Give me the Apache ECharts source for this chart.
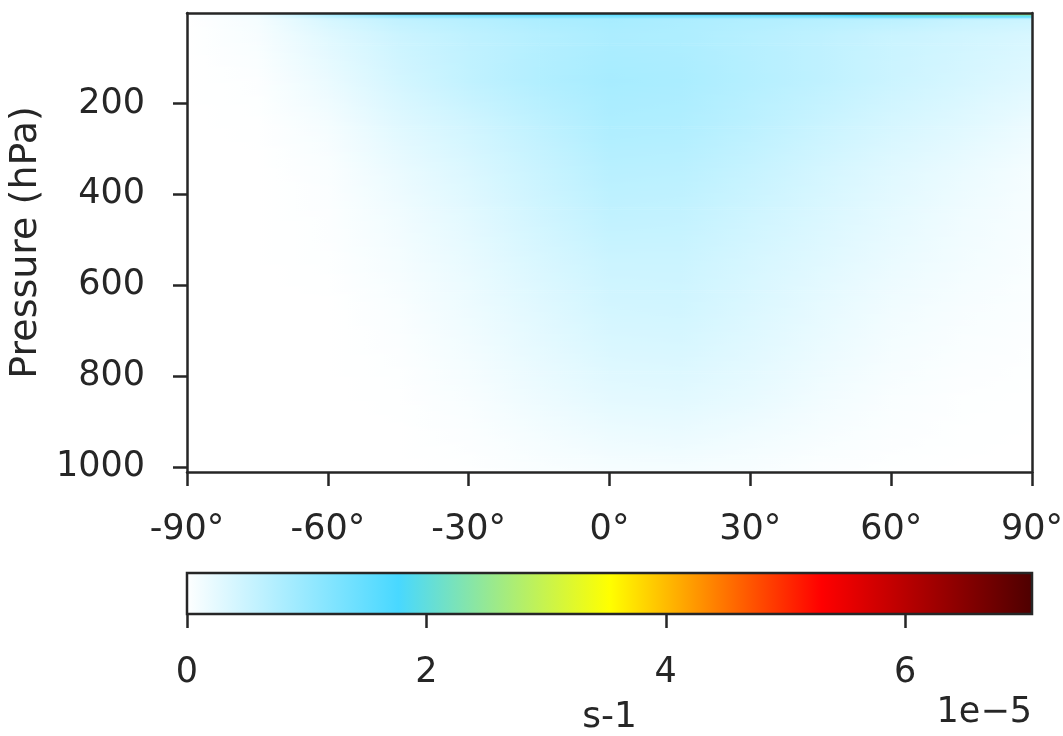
<!DOCTYPE html>
<html>
<head>
<meta charset="utf-8">
<script src="https://cdn.jsdelivr.net/npm/echarts@6/dist/echarts.min.js"></script>
<style>
  html, body { margin: 0; padding: 0; background: #fff; }
  #main { width: 1063px; height: 736px; }
</style>
</head>
<body>
<div id="main"></div>
<script>
// latitude (deg) and pressure levels (hPa) of the grid
const lats = [-90, -75, -60, -45, -30, -15, 0, 15, 30, 45, 60, 75, 90];
const levels = [1, 5, 15, 50, 150, 250, 350, 450, 550, 650, 750, 850, 950, 1011];

// values in units of 1e-5 s-1, one row per level, south -> north
const p1    = [0, 0.3, 1.1, 1.6, 1.8, 1.9, 1.9, 1.9, 2.0, 2.4, 3.1, 3.3, 3.4];
const p5    = [0, 0.2, 0.8, 1.3, 1.5, 1.6, 1.6, 1.6, 1.65, 1.8, 2.2, 2.4, 2.5];
const p15   = [0, 0.1, 0.4, 0.6, 0.7, 0.8, 0.85, 0.8, 0.75, 0.7, 0.65, 0.55, 0.5];
const p50   = [0, 0.08, 0.3, 0.5, 0.62, 0.72, 0.8, 0.78, 0.7, 0.62, 0.52, 0.45, 0.38];
const p150  = [0, 0.03, 0.2, 0.42, 0.6, 0.75, 0.85, 0.82, 0.72, 0.62, 0.5, 0.4, 0.3];
const p250  = [0, 0.01, 0.1, 0.3, 0.45, 0.62, 0.78, 0.76, 0.65, 0.52, 0.4, 0.3, 0.18];
const p350  = [0, 0, 0.05, 0.2, 0.35, 0.52, 0.68, 0.66, 0.55, 0.42, 0.3, 0.2, 0.1];
const p450  = [0, 0, 0.03, 0.14, 0.28, 0.45, 0.6, 0.58, 0.47, 0.36, 0.25, 0.15, 0.08];
const p550  = [0, 0, 0.02, 0.1, 0.22, 0.37, 0.5, 0.5, 0.4, 0.3, 0.2, 0.12, 0.06];
const p650  = [0, 0, 0, 0.06, 0.17, 0.3, 0.43, 0.45, 0.35, 0.24, 0.14, 0.08, 0.04];
const p750  = [0, 0, 0, 0.03, 0.12, 0.24, 0.35, 0.37, 0.29, 0.19, 0.1, 0.05, 0.02];
const p850  = [0, 0, 0, 0.01, 0.07, 0.17, 0.26, 0.28, 0.22, 0.13, 0.06, 0.02, 0.01];
const p950  = [0, 0, 0, 0, 0.03, 0.09, 0.15, 0.17, 0.12, 0.07, 0.03, 0.01, 0];
const p1011 = [0, 0, 0, 0, 0.01, 0.05, 0.08, 0.09, 0.07, 0.03, 0.01, 0, 0];
const rows = [p1, p5, p15, p50, p150, p250, p350, p450, p550, p650, p750, p850, p950, p1011];

const vmax = 7.06;
const yTicks = [200, 400, 600, 800, 1000];
const cbarTicks = [0, 2, 4, 6];

// colour map
const cmapPos = [0, 0.251, 0.5, 0.75, 1];
const cmapCol = ["#ffffff", "#48d8ff", "#ffff00", "#ff0000", "#4d0000"];

function hex2rgb(h) {
  return [parseInt(h.substr(1, 2), 16), parseInt(h.substr(3, 2), 16), parseInt(h.substr(5, 2), 16)];
}
const cmapRgb = cmapCol.map(hex2rgb);

function cmap(v) {
  var t = Math.max(0, Math.min(1, v / vmax));
  for (var i = 1; i < cmapPos.length; i++) {
    if (t <= cmapPos[i]) {
      var f = (t - cmapPos[i - 1]) / (cmapPos[i] - cmapPos[i - 1]);
      var a = cmapRgb[i - 1], b = cmapRgb[i];
      return "rgb(" + Math.round(a[0] + (b[0] - a[0]) * f) + "," +
        Math.round(a[1] + (b[1] - a[1]) * f) + "," + Math.round(a[2] + (b[2] - a[2]) * f) + ")";
    }
  }
  return cmapCol[cmapCol.length - 1];
}

function lerp(a, b, t) { return a + (b - a) * t; }

// one item per grid cell: corners + 4 corner values
var cells = [];
for (var j = 0; j < levels.length - 1; j++) {
  for (var i = 0; i < lats.length - 1; i++) {
    cells.push([lats[i], lats[i + 1], levels[j], levels[j + 1],
      rows[j][i], rows[j][i + 1], rows[j + 1][i], rows[j + 1][i + 1]]);
  }
}

var textColor = "#262626";
var font = "DejaVu Sans";

var myChart = echarts.init(document.getElementById("main"));
var option = {
  backgroundColor: "#fff",
  textStyle: { fontFamily: font, color: textColor },
  grid: [
    { left: 187, top: 13, width: 845, height: 459, outerBoundsMode: "none" },
    { left: 187, top: 573, width: 845, height: 41, outerBoundsMode: "none" },
  ],
  xAxis: [
    {
      type: "value", gridIndex: 0, min: -90, max: 90, interval: 30, z: 10,
      splitLine: { show: false },
      axisLine: { show: true, onZero: false, lineStyle: { color: textColor, width: 2.5 } },
      axisTick: { show: true, inside: false, length: 14, lineStyle: { color: textColor, width: 2.5 } },
      axisLabel: {
        fontSize: 35, color: textColor, fontFamily: font, margin: 40,
        formatter: function (v) { return v + "°"; },
      },
    },
    {
      // top spine
      type: "value", gridIndex: 0, position: "top", min: -90, max: 90, z: 10,
      splitLine: { show: false }, axisTick: { show: false }, axisLabel: { show: false },
      axisLine: { show: true, onZero: false, lineStyle: { color: textColor, width: 2.5 } },
    },
    {
      // colourbar axis
      type: "value", gridIndex: 1, min: 0, max: vmax, z: 10,
      name: "s-1", nameLocation: "middle", nameGap: 86,
      nameTextStyle: { fontSize: 36, color: textColor, fontFamily: font },
      splitLine: { show: false },
      axisLine: { show: false },
      axisTick: { show: true, length: 14, customValues: cbarTicks, lineStyle: { color: textColor, width: 2.5 } },
      axisLabel: {
        fontSize: 35, color: textColor, fontFamily: font, margin: 41, customValues: cbarTicks,
        formatter: function (v) { return String(v); },
      },
    },
  ],
  yAxis: [
    {
      type: "value", gridIndex: 0, min: 1, max: 1011, inverse: true, z: 10,
      name: "Pressure (hPa)", nameLocation: "middle", nameGap: 128,
      nameTextStyle: { fontSize: 38, color: textColor, fontFamily: font },
      splitLine: { show: false },
      axisLine: { show: true, onZero: false, lineStyle: { color: textColor, width: 2.5 } },
      axisTick: { show: true, length: 14, customValues: yTicks, lineStyle: { color: textColor, width: 2.5 } },
      axisLabel: {
        fontSize: 35, color: textColor, fontFamily: font, margin: 42, customValues: yTicks,
        formatter: function (v) { return String(v); },
      },
    },
    {
      // right spine
      type: "value", gridIndex: 0, position: "right", min: 1, max: 1011, inverse: true, z: 10,
      splitLine: { show: false }, axisTick: { show: false }, axisLabel: { show: false },
      axisLine: { show: true, onZero: false, lineStyle: { color: textColor, width: 2.5 } },
    },
    { type: "value", gridIndex: 1, min: 0, max: 1, show: false },
  ],
  graphic: [
    {
      type: "text", right: 31, top: 695, z: 20,
      style: { text: "1e\u22125", fontSize: 35, fill: textColor, fontFamily: font, textAlign: "right" },
    },
  ],
  series: [
    {
      type: "custom",
      xAxisIndex: 0,
      yAxisIndex: 0,
      clip: true,
      z: 1,
      silent: true,
      data: cells,
      renderItem: function (params, api) {
        var a = api.coord([api.value(0), api.value(2)]);
        var b = api.coord([api.value(1), api.value(3)]);
        var x = a[0], w = b[0] - a[0], y0 = a[1], h = b[1] - a[1];
        var vTL = api.value(4), vTR = api.value(5), vBL = api.value(6), vBR = api.value(7);
        var n = Math.max(1, Math.ceil(h / 2));
        var children = [];
        for (var k = 0; k < n; k++) {
          var t = (k + 0.5) / n;
          var vl = lerp(vTL, vBL, t), vr = lerp(vTR, vBR, t);
          var stops = [0, 0.25, 0.5, 0.75, 1].map(function (s) {
            return { offset: s, color: cmap(lerp(vl, vr, s)) };
          });
          children.push({
            type: "rect",
            shape: { x: x, y: y0 + (h * k) / n, width: w + 0.7, height: h / n + 0.7 },
            style: { fill: new echarts.graphic.LinearGradient(0, 0, 1, 0, stops) },
          });
        }
        return { type: "group", children: children };
      },
    },
    {
      type: "custom",
      xAxisIndex: 2,
      yAxisIndex: 2,
      z: 5,
      silent: true,
      data: [[0, vmax]],
      renderItem: function (params, api) {
        var a = api.coord([api.value(0), 1]);
        var b = api.coord([api.value(1), 0]);
        var stops = cmapPos.map(function (p, i) { return { offset: p, color: cmapCol[i] }; });
        return {
          type: "rect",
          shape: { x: a[0], y: a[1], width: b[0] - a[0], height: b[1] - a[1] },
          style: {
            fill: new echarts.graphic.LinearGradient(0, 0, 1, 0, stops),
            stroke: textColor,
            lineWidth: 2.5,
          },
        };
      },
    },
  ],
};
myChart.setOption(option);
</script>
</body>
</html>
